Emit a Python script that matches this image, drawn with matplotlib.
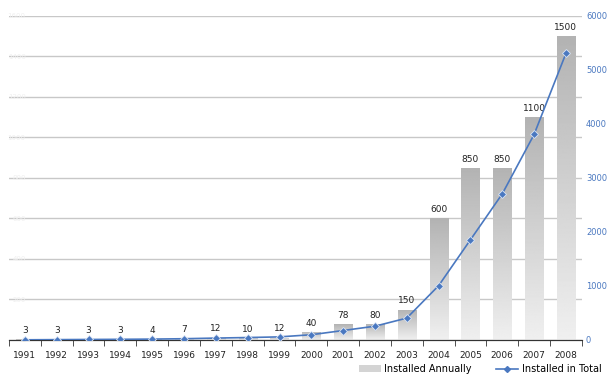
import matplotlib.pyplot as plt
from matplotlib.patches import Patch
from matplotlib.lines import Line2D
import numpy as np

years = ["1991", "1992", "1993", "1994", "1995", "1996", "1997", "1998", "1999",
         "2000", "2001", "2002", "2003", "2004", "2005", "2006", "2007", "2008"]
annual = [3, 3, 3, 3, 4, 7, 12, 10, 12, 40, 78, 80, 150, 600, 850, 850, 1100, 1500]
total = [3, 6, 9, 12, 16, 23, 35, 45, 57, 97, 175, 255, 405, 1005, 1855, 2705, 3805, 5305]

blue = "#4a78c0"

fig = plt.figure(figsize=(6.10, 3.79), dpi=100)
ax = fig.add_axes([0.0148, 0.103, 0.939, 0.855])
ax2 = ax.twinx()

x = np.arange(len(years))
bars = ax.bar(x, annual, width=0.57, color="none", edgecolor="none", zorder=2)

# vertical grey gradient in each bar, darker at the top
grad = np.linspace(0.94, 0.70, 256).reshape(-1, 1)
for b in bars:
    x0, w, h = b.get_x(), b.get_width(), b.get_height()
    im = ax.imshow(grad, cmap="gray", vmin=0, vmax=1, origin="lower",
                   extent=(x0, x0 + w, 0, h), aspect="auto", zorder=2)
    im.set_clip_path(b)

for xi, v in zip(x, annual):
    ax.annotate(str(v), (xi, v), xytext=(0, 3), textcoords="offset points",
                ha="center", va="bottom", fontsize=6.5, color="#222222")

ax.set_xlim(-0.5, len(years) - 0.5)
ax.set_ylim(0, 1600)
ax.set_yticks(range(0, 1601, 200))
ax.set_yticklabels([str(t) for t in range(0, 1601, 200)], fontsize=5, color="#f0f0f0")
ax.tick_params(axis="y", length=0, pad=-12)
ax.yaxis.grid(True, color="#c8c8c8", linewidth=1)
ax.set_axisbelow(True)

ax.set_xticks(x)
ax.set_xticklabels(years, fontsize=6.5, color="#222222")
ax.set_xticks(np.arange(-0.5, len(years), 1), minor=True)
ax.tick_params(axis="x", which="major", length=0, pad=8)
ax.tick_params(axis="x", which="minor", length=4, color="#333333")

ax2.plot(x, total, color=blue, linewidth=1.2, marker="D", markersize=4,
         markerfacecolor=blue, markeredgecolor="#dce6f5", markeredgewidth=0.6, zorder=3)
ax2.set_ylim(0, 6000)
ax2.set_yticks(range(0, 6001, 1000))
ax2.tick_params(axis="y", length=0, labelsize=6, labelcolor=blue, pad=3)

for a in (ax, ax2):
    for s in ("top", "left", "right"):
        a.spines[s].set_visible(False)
    a.spines["bottom"].set_color("#333333")

handles = [Patch(facecolor="#d4d4d4", edgecolor="none"),
           Line2D([], [], color=blue, marker="D", markersize=3, linewidth=1.2)]
fig.legend(handles, ["Installed Annually", "Installed in Total"], loc="lower right",
           bbox_to_anchor=(1.0, -0.01), ncol=2, frameon=False, fontsize=7,
           handlelength=2.2, columnspacing=2.5, handletextpad=0.4)

fig.savefig("out.png", dpi=100)
